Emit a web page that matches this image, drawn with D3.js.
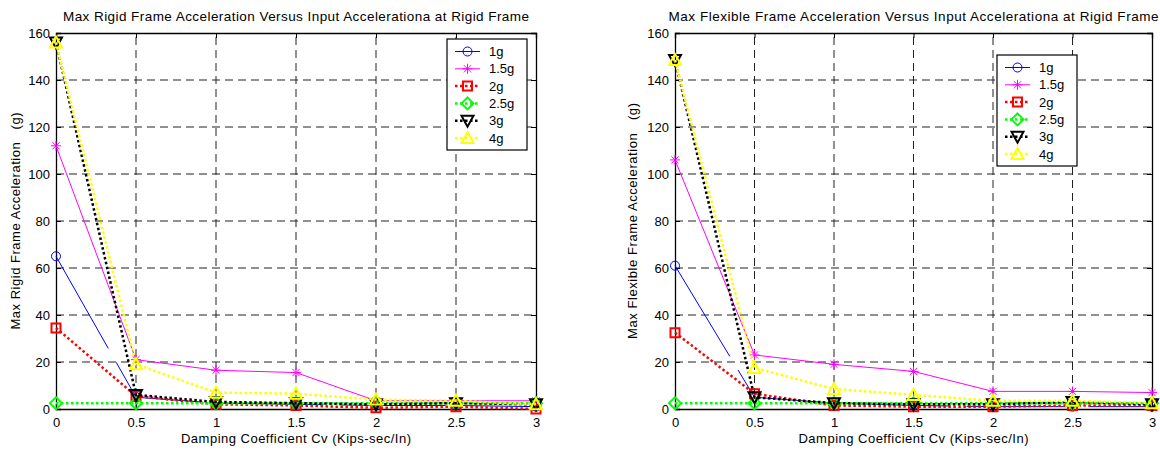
<!DOCTYPE html>
<html>
<head>
<meta charset="utf-8">
<script src="https://cdn.jsdelivr.net/npm/d3@7"></script>
<style>
  body { margin: 0; background: #fff; }
  text { font-family: "Liberation Sans", Arial, sans-serif; fill: #000; }
</style>
</head>
<body>
<div id="chart"></div>
<script>
// damping coefficient values on the x axis
const cv = [0, 0.5, 1, 1.5, 2, 2.5, 3];
const seriesNames = ["1g", "1.5g", "2g", "2.5g", "3g", "4g"];
const yTicks = [0, 20, 40, 60, 80, 100, 120, 140, 160];
const xTicks = [0, 0.5, 1, 1.5, 2, 2.5, 3];

// Max rigid frame acceleration (g)
const rigid1g  = [65, 5, 2.5, 2, 1.5, 1.5, 1];
const rigid15g = [112, 21, 16.5, 15.5, 3.5, 3.5, 3.5];
const rigid2g  = [34.5, 5.5, 2, 1.5, 0.5, 1, 0];
const rigid25g = [2.5, 2.5, 2.5, 2.5, 2.5, 2.5, 2.5];
const rigid3g  = [156, 6, 3, 2.5, 2, 2.5, 2];
const rigid4g  = [156, 19, 7, 6.5, 4, 3.5, 2];

// Max flexible frame acceleration (g)
const flex1g  = [61, 5, 2.5, 1.5, 1, 1, 1];
const flex15g = [106, 23, 19, 16, 7.5, 7.5, 7];
const flex2g  = [32.5, 6.5, 1.5, 1, 1, 1.5, 1.5];
const flex25g = [2.5, 2.5, 2.5, 2.5, 2.5, 2.5, 2.5];
const flex3g  = [148.5, 5, 2.5, 2, 2, 3, 2];
const flex4g  = [148.5, 17.5, 8.5, 6, 3.5, 3.5, 2.5];

const width = 1160, height = 450;

const styles = [
  { color: "#0000ff", dash: "106,16", w: 1, marker: "circle" },
  { color: "#ff00ff", dash: null, w: 1, marker: "star" },
  { color: "#ff0000", dash: "2.5,2.5", w: 2.5, marker: "square" },
  { color: "#00ff00", dash: "2.5,2.5", w: 2.5, marker: "diamond" },
  { color: "#000000", dash: "2.5,2.5", w: 2.5, marker: "tridown" },
  { color: "#ffff00", dash: "2.5,2.5", w: 2.5, marker: "triup" }
];

const markerPaths = {
  circle: "M4.5,0A4.5,4.5 0 1,1 -4.5,0A4.5,4.5 0 1,1 4.5,0Z",
  star: "M-5,0L5,0M0,-5L0,5M-3.6,-3.6L3.6,3.6M-3.6,3.6L3.6,-3.6",
  square: "M-4.5,-4.5L4.5,-4.5L4.5,4.5L-4.5,4.5Z",
  diamond: "M0,-6L6,0L0,6L-6,0Z",
  tridown: "M-6,-5L6,-5L0,6Z",
  triup: "M0,-6L6,5L-6,5Z"
};

const svg = d3.select("#chart").append("svg")
  .attr("width", width)
  .attr("height", height);

function drawPanel(p) {
  const x = d3.scaleLinear().domain([0, 3]).range([p.left, p.right]);
  const y = d3.scaleLinear().domain([0, 160]).range([409, 33]);
  const g = svg.append("g");

  // grid
  g.selectAll(".vg").data(xTicks.slice(1, -1)).enter().append("line")
    .attr("x1", d => x(d)).attr("x2", d => x(d))
    .attr("y1", y(0)).attr("y2", y(160))
    .attr("stroke", "#222").attr("stroke-dasharray", "8,5");
  g.selectAll(".hg").data(yTicks.slice(1, -1)).enter().append("line")
    .attr("x1", x(0)).attr("x2", x(3))
    .attr("y1", d => y(d)).attr("y2", d => y(d))
    .attr("stroke", "#222").attr("stroke-dasharray", "8,5");

  // axes (ticks inward)
  g.append("g").attr("transform", `translate(0,${y(0)})`)
    .call(d3.axisBottom(x).tickValues(xTicks).tickSize(-5).tickPadding(9).tickFormat(d3.format("")));
  g.append("g").attr("transform", `translate(${x(0)},0)`)
    .call(d3.axisLeft(y).tickValues(yTicks).tickSize(-5).tickPadding(6));
  g.append("g").attr("transform", `translate(0,${y(160)})`)
    .call(d3.axisTop(x).tickValues(xTicks).tickSize(-5).tickFormat(""));
  g.append("g").attr("transform", `translate(${x(3)},0)`)
    .call(d3.axisRight(y).tickValues(yTicks).tickSize(-5).tickFormat(""));
  g.selectAll(".domain").attr("stroke", "#000").attr("stroke-width", 1.3);
  g.selectAll(".tick line").attr("stroke", "#000");
  g.selectAll(".tick text").attr("font-size", 13).attr("font-family", "Liberation Sans, Arial, sans-serif");

  // series
  const line = d3.line().x((d, i) => x(cv[i])).y(d => y(d));
  p.series.forEach((vals, k) => {
    const s = styles[k];
    g.append("path").attr("d", line(vals))
      .attr("fill", "none").attr("stroke", s.color)
      .attr("stroke-width", s.w)
      .attr("stroke-dasharray", s.dash);
    g.selectAll(null).data(vals).enter().append("path")
      .attr("d", markerPaths[s.marker])
      .attr("transform", (d, i) => `translate(${x(cv[i])},${y(d)})`)
      .attr("fill", "none").attr("stroke", s.color)
      .attr("stroke-width", s.w > 1 ? 2 : 1);
  });

  // title and labels
  svg.append("text").attr("x", (p.left + p.right) / 2).attr("y", 21)
    .attr("text-anchor", "middle").attr("font-size", 13.5)
    .attr("textLength", p.titleLen).attr("lengthAdjust", "spacing")
    .text(p.title);
  svg.append("text").attr("x", (p.left + p.right) / 2).attr("y", 443)
    .attr("text-anchor", "middle").attr("font-size", 13)
    .attr("textLength", 230).attr("lengthAdjust", "spacing")
    .text("Damping Coefficient Cv (Kips-sec/In)");
  svg.append("text")
    .attr("transform", `translate(${p.ylabelX},${(y(0) + y(160)) / 2}) rotate(-90)`)
    .attr("text-anchor", "middle").attr("font-size", 13)
    .attr("textLength", p.ylabelLen).attr("lengthAdjust", "spacing")
    .style("white-space", "pre")
    .text(p.ylabel);

  // legend
  const lg = svg.append("g").attr("transform", `translate(${p.legX},${p.legY})`);
  lg.append("rect").attr("width", 80).attr("height", 111)
    .attr("fill", "#fff").attr("stroke", "#000").attr("stroke-width", 1.2);
  seriesNames.forEach((name, k) => {
    const s = styles[k];
    const cy = 12.5 + k * 17.3;
    lg.append("line").attr("x1", 8).attr("x2", 33).attr("y1", cy).attr("y2", cy)
      .attr("stroke", s.color).attr("stroke-width", s.w)
      .attr("stroke-dasharray", s.dash && s.w > 1 ? s.dash : null);
    lg.append("path").attr("d", markerPaths[s.marker])
      .attr("transform", `translate(20.5,${cy})`)
      .attr("fill", "none").attr("stroke", s.color).attr("stroke-width", s.w > 1 ? 2 : 1);
    lg.append("text").attr("x", 42).attr("y", cy + 4.5).attr("font-size", 13).text(name);
  });
}

drawPanel({
  left: 56, right: 536,
  title: "Max Rigid Frame Acceleration Versus Input Accelerationa at Rigid Frame",
  titleLen: 466,
  ylabel: "Max Rigid Frame Acceleration   (g)",
  ylabelLen: 217,
  ylabelX: 20,
  legX: 447, legY: 39,
  series: [rigid1g, rigid15g, rigid2g, rigid25g, rigid3g, rigid4g]
});

drawPanel({
  left: 675, right: 1152,
  title: "Max Flexible Frame Acceleration Versus Input Accelerationa at Rigid Frame",
  titleLen: 490,
  ylabel: "Max Flexible Frame Acceleration   (g)",
  ylabelLen: 236,
  ylabelX: 637,
  legX: 997, legY: 55,
  series: [flex1g, flex15g, flex2g, flex25g, flex3g, flex4g]
});
</script>
</body>
</html>
